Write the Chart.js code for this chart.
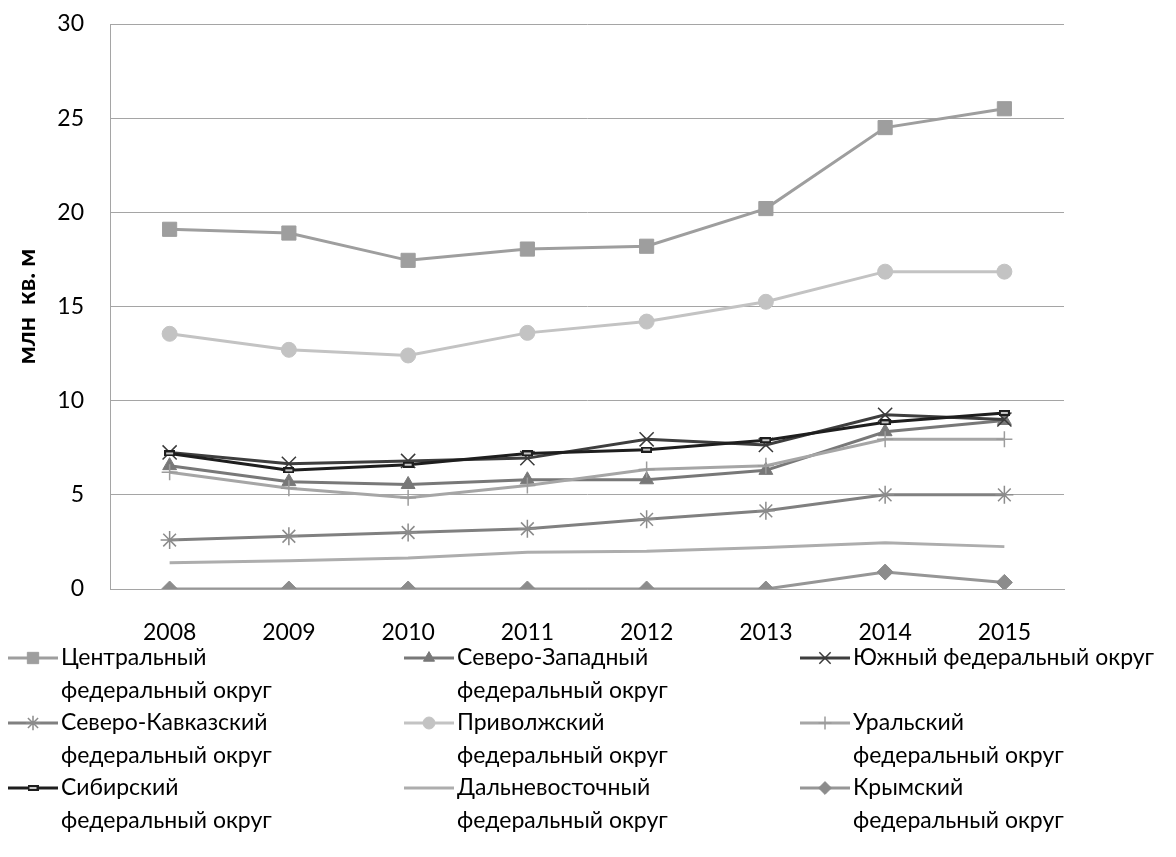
<!DOCTYPE html>
<html lang="ru">
<head>
<meta charset="utf-8">
<title>Ввод жилья по федеральным округам</title>
<script src="https://cdn.jsdelivr.net/npm/chart.js"></script>
<style>
  html, body { margin: 0; padding: 0; background: #fff; }
  #wrap { width: 1176px; height: 857px; }
</style>
</head>
<body>
<div id="wrap"><canvas id="housingChart" width="1176" height="857"></canvas></div>
<script>
// Годы и значения, млн кв. м
const years = ['2008', '2009', '2010', '2011', '2012', '2013', '2014', '2015'];
const yTicks = [0, 5, 10, 15, 20, 25, 30];
const yTitle = 'млн  кв. м';

const seriesNames = [
    'Центральный федеральный округ',
    'Северо-Западный федеральный округ',
    'Южный федеральный округ',
    'Северо-Кавказский федеральный округ',
    'Приволжский федеральный округ',
    'Уральский федеральный округ',
    'Сибирский федеральный округ',
    'Дальневосточный федеральный округ',
    'Крымский федеральный округ'
];

const central       = [19.1, 18.9, 17.45, 18.05, 18.2, 20.2, 24.5, 25.5];
const northWest     = [6.55, 5.7, 5.55, 5.8, 5.8, 6.3, 8.35, 8.95];
const south         = [7.25, 6.65, 6.8, 6.95, 7.95, 7.65, 9.25, 9.0];
const northCaucasus = [2.6, 2.8, 3.0, 3.2, 3.7, 4.15, 5.0, 5.0];
const volga         = [13.55, 12.7, 12.4, 13.6, 14.2, 15.25, 16.85, 16.85];
const ural          = [6.2, 5.35, 4.85, 5.5, 6.35, 6.55, 7.95, 7.95];
const siberia       = [7.2, 6.3, 6.6, 7.2, 7.4, 7.9, 8.85, 9.35];
const farEast       = [1.4, 1.5, 1.65, 1.95, 2.0, 2.2, 2.45, 2.25];
const crimea        = [0, 0, 0, 0, 0, 0, 0.9, 0.35];

const FONT = 'Lato, Carlito, "Open Sans", sans-serif';

// маркер "черточка" как в Excel
function dashMarker() {
    const c = document.createElement('canvas');
    c.width = 11;
    c.height = 6;
    const g = c.getContext('2d');
    g.fillStyle = '#1e1e1e';
    g.fillRect(0, 0, 11, 6);
    g.fillStyle = '#c8c8c8';
    g.fillRect(2, 2, 7, 2);
    return c;
}

function series(i, data, color, style, radius, markColor, markWidth) {
    return {
        label: seriesNames[i],
        data: data,
        borderColor: color,
        borderWidth: 3,
        pointStyle: style,
        pointRadius: radius,
        pointBackgroundColor: markColor || color,
        pointBorderColor: markColor || color,
        pointBorderWidth: markWidth || 1,
        tension: 0,
        order: seriesNames.length - i
    };
}

// длинные подписи переносим после первого слова
function wrapLabel(ctx, text, maxWidth) {
    if (ctx.measureText(text).width <= maxWidth) return [text];
    const cut = text.indexOf(' ');
    return [text.slice(0, cut), text.slice(cut + 1)];
}

const legendPlugin = {
    id: 'wrappedLegend',
    afterDraw(chart) {
        const ctx = chart.ctx;
        ctx.save();
        ctx.font = '23px ' + FONT;
        ctx.textBaseline = 'middle';
        chart.data.datasets.forEach((ds, i) => {
            const x0 = 8 + (i % 3) * 396;
            const y0 = 658 + Math.floor(i / 3) * 65;
            ctx.strokeStyle = ds.borderColor;
            ctx.lineWidth = ds.borderWidth;
            ctx.beginPath();
            ctx.moveTo(x0, y0);
            ctx.lineTo(x0 + 50, y0);
            ctx.stroke();
            if (ds.pointRadius > 0) {
                ctx.fillStyle = ds.pointBackgroundColor;
                ctx.strokeStyle = ds.pointBorderColor;
                ctx.lineWidth = ds.pointBorderWidth;
                Chart.helpers.drawPoint(ctx, {
                    pointStyle: ds.pointStyle,
                    radius: ds.pointRadius * 0.8,
                    borderWidth: ds.pointBorderWidth,
                    rotation: 0
                }, x0 + 25, y0);
            }
            ctx.fillStyle = '#000';
            wrapLabel(ctx, ds.label, 310).forEach((line, k) => {
                ctx.fillText(line, x0 + 53, y0 + k * 33);
            });
        });
        ctx.restore();
    }
};

function drawChart() {
    const ctx = document.getElementById('housingChart').getContext('2d');
    new Chart(ctx, {
        type: 'line',
        data: {
            labels: years,
            datasets: [
                series(0, central, '#9e9e9e', 'rect', 10),
                series(1, northWest, '#787878', 'triangle', 8),
                series(2, south, '#3e3e3e', 'crossRot', 10, '#3a3a3a', 1.5),
                series(3, northCaucasus, '#808080', 'star', 9, '#8c8c8c', 1.5),
                series(4, volga, '#c3c3c3', 'circle', 7.5),
                series(5, ural, '#a6a6a6', 'cross', 8, '#9c9c9c', 1.5),
                series(6, siberia, '#1e1e1e', dashMarker(), 5),
                series(7, farEast, '#adadad', 'circle', 0),
                series(8, crimea, '#969696', 'rectRot', 8, '#8c8c8c')
            ]
        },
        options: {
            responsive: false,
            animation: false,
            events: [],
            layout: { padding: { top: 24, right: 112, bottom: 0, left: 0 } },
            plugins: {
                legend: { display: false },
                tooltip: { enabled: false }
            },
            scales: {
                x: {
                    offset: true,
                    grid: { display: false, drawTicks: false },
                    border: { display: true, color: '#a5a5a5', width: 1 },
                    ticks: { color: '#000', font: { family: FONT, size: 23 }, padding: 30, maxRotation: 0 },
                    afterFit: s => { s.height = 857 - 589; }
                },
                y: {
                    min: 0,
                    max: 30,
                    afterBuildTicks: s => { s.ticks = yTicks.map(v => ({ value: v })); },
                    grid: { color: '#a5a5a5', lineWidth: 1, drawTicks: false },
                    border: { display: true, color: '#a5a5a5', width: 1 },
                    ticks: { color: '#000', font: { family: FONT, size: 23 }, padding: 26 },
                    title: {
                        display: true,
                        text: yTitle,
                        color: '#000',
                        font: { family: FONT, size: 25, weight: 'bold' },
                        padding: { top: 12, bottom: 0 }
                    },
                    afterFit: s => {
                        s.width = 110;
                        s.paddingTop = 0;
                        s.paddingBottom = 0;
                    }
                }
            }
        },
        plugins: [legendPlugin]
    });
}

document.addEventListener('DOMContentLoaded', drawChart);
</script>
</body>
</html>
